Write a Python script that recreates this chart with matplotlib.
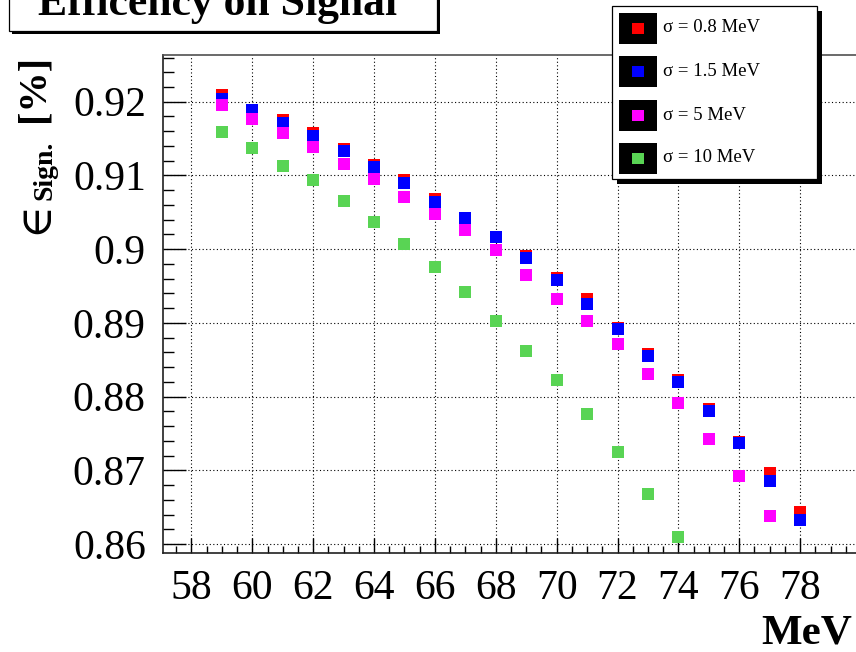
import numpy as np
import matplotlib
matplotlib.use("Agg")
import matplotlib.pyplot as plt
from matplotlib.patches import Rectangle
from matplotlib.ticker import MultipleLocator, FixedLocator

plt.rcParams['font.family'] = ['Liberation Serif', 'DejaVu Serif']

# Signal efficiency versus mass hypothesis for several resolutions
mass_08 = [59, 60, 61, 62, 63, 64, 65, 66, 67, 68, 69, 70, 71, 72, 73, 74, 75, 76, 77, 78]
eff_08 = [0.92091, 0.91888, 0.91754, 0.91573, 0.91356, 0.91139, 0.90935, 0.90677,
          0.90418, 0.90163, 0.89911, 0.89611, 0.89330, 0.88930, 0.88575, 0.88230,
          0.87829, 0.87389, 0.86966, 0.86430]

mass_15 = [59, 60, 61, 62, 63, 64, 65, 66, 67, 68, 69, 70, 71, 72, 73, 74, 75, 76, 77, 78]
eff_15 = [0.92037, 0.91890, 0.91713, 0.91532, 0.91338, 0.91117, 0.90899, 0.90636,
          0.90419, 0.90165, 0.89875, 0.89575, 0.89252, 0.88916, 0.88557, 0.88193,
          0.87811, 0.87370, 0.86861, 0.86329]

mass_5 = [59, 60, 61, 62, 63, 64, 65, 66, 67, 68, 69, 70, 71, 72, 73, 74, 75, 76, 77]
eff_5 = [0.91953, 0.91772, 0.91573, 0.91392, 0.91152, 0.90958, 0.90714, 0.90474,
         0.90257, 0.89983, 0.89648, 0.89325, 0.89030, 0.88711, 0.88307, 0.87911,
         0.87425, 0.86925, 0.86384]

mass_10 = [59, 60, 61, 62, 63, 64, 65, 66, 67, 68, 69, 70, 71, 72, 73, 74]
eff_10 = [0.91591, 0.91369, 0.91130, 0.90935, 0.90655, 0.90374, 0.90076, 0.89760,
          0.89421, 0.89020, 0.88625, 0.88230, 0.87766, 0.87248, 0.86684, 0.86089]

labels = ["σ = 0.8 MeV", "σ = 1.5 MeV", "σ = 5 MeV", "σ = 10 MeV"]
colors = ["#ff0000", "#0000ff", "#ff00ff", "#59d454"]
x_ticks = [58, 60, 62, 64, 66, 68, 70, 72, 74, 76, 78]
y_ticks = [0.86, 0.87, 0.88, 0.89, 0.90, 0.91, 0.92]
y_tick_labels = ["0.86", "0.87", "0.88", "0.89", "0.9", "0.91", "0.92"]

W, H = 856, 652
fig = plt.figure(figsize=(W / 100, H / 100), dpi=100)
fig.patch.set_facecolor("white")

# main frame (extends slightly past the right border)
left, right, top, bottom = 162.5, 861.0, 55.0, 553.3
ax = fig.add_axes([left / W, 1 - bottom / H, (right - left) / W, (bottom - top) / H])
ax.set_xlim(57.05, 80.0)
ax.set_ylim(0.85874, 0.92634)

series = [(mass_08, eff_08), (mass_15, eff_15), (mass_5, eff_5), (mass_10, eff_10)]
for (xs, ys), c in zip(series, colors):
    ax.plot(xs, ys, linestyle="none", marker="s", markersize=8.4,
            markerfacecolor=c, markeredgewidth=0, zorder=3)

ax.xaxis.set_major_locator(FixedLocator(x_ticks))
ax.xaxis.set_minor_locator(MultipleLocator(0.5))
ax.yaxis.set_major_locator(FixedLocator(y_ticks))
ax.set_yticklabels(y_tick_labels)
ax.yaxis.set_minor_locator(MultipleLocator(0.002))

ax.tick_params(axis="x", which="major", direction="in", length=10.8, width=1.0,
               labelsize=30, pad=12)
ax.tick_params(axis="x", which="minor", direction="in", length=5.4, width=1.0)
ax.tick_params(axis="y", which="major", direction="in", length=16.6, width=1.0,
               labelsize=30, pad=12)
ax.tick_params(axis="y", which="minor", direction="in", length=8.0, width=1.0)

ax.grid(True, which="major", color="black", linestyle=(0, (1, 2.2)), linewidth=0.8)
for s in ("left", "bottom"):
    ax.spines[s].set_linewidth(1.2)
    ax.spines[s].set_color("#202020")
ax.spines["top"].set_linewidth(1.2)
ax.spines["top"].set_color("#505050")
ax.spines["right"].set_visible(False)

# overlay in pixel coordinates for title, legend and axis titles
ov = fig.add_axes([0, 0, 1, 1], zorder=10)
ov.set_xlim(0, W)
ov.set_ylim(H, 0)
ov.axis("off")
ov.patch.set_alpha(0)

# title box with shadow
ov.add_patch(Rectangle((12, -10), 428, 44, facecolor="black", edgecolor="none"))
ov.add_patch(Rectangle((9, -10), 428, 41, facecolor="white", edgecolor="black", linewidth=0.9))
ov.text(38, 15, "Efficency on Signal", fontsize=31.5, fontweight="bold",
        ha="left", va="baseline")

# legend box with shadow
ov.add_patch(Rectangle((617, 11), 205, 173, facecolor="black", edgecolor="none"))
ov.add_patch(Rectangle((612, 6), 205, 173, facecolor="white", edgecolor="black", linewidth=0.9))
row_y = [28, 71.5, 115, 158]
for yc, lab, c in zip(row_y, labels, colors):
    ov.add_patch(Rectangle((619, yc - 15.5), 38, 31, facecolor="black", edgecolor="none"))
    ov.add_patch(Rectangle((632, yc - 5.5), 12, 11, facecolor=c, edgecolor="none"))
    ov.text(663, yc, lab, fontsize=13.5, ha="left", va="center")

# axis titles
ov.text(852, 643, "MeV", fontsize=31, fontweight="bold", ha="right", va="baseline")
ov.text(34, 88.5, "[%]", fontsize=29, fontweight="bold", rotation=90,
        ha="center", va="center")
ov.text(45, 170, "Sign.", fontsize=20, fontweight="bold", rotation=90,
        ha="center", va="center")
ov.text(35, 217, "∈", fontsize=32, rotation=90, ha="center", va="center",
        family=["DejaVu Serif"])

fig.savefig("out.png", dpi=100)
